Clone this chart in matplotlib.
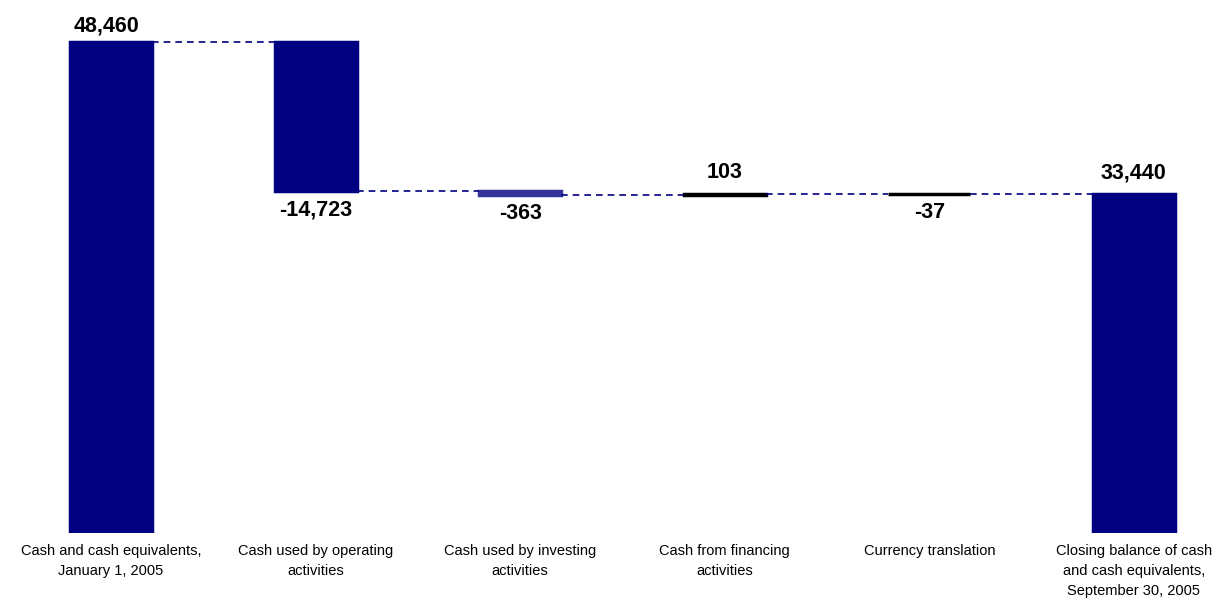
import matplotlib.pyplot as plt
from matplotlib import font_manager

# waterfall data (thousands)
categories = ["Cash and cash equivalents,\nJanuary 1, 2005",
              "Cash used by operating\nactivities",
              "Cash used by investing\nactivities",
              "Cash from financing\nactivities",
              "Currency translation",
              "Closing balance of cash\nand cash equivalents,\nSeptember 30, 2005"]
changes = [48460, -14723, -363, 103, -37, 33440]
labels = ["48,460", "-14,723", "-363", "103", "-37", "33,440"]
is_total = [True, False, False, False, False, True]
colors = ["#000080", "#000080", "#333399", "#000000", "#000000", "#000080"]

names = {f.name for f in font_manager.fontManager.ttflist}
narrow = "Liberation Sans Narrow" if "Liberation Sans Narrow" in names else "Liberation Sans"
plt.rcParams['font.family'] = [narrow, "DejaVu Sans"]

# compute bottoms / tops
bottoms, heights = [], []
level = 0
for c, tot in zip(changes, is_total):
    if tot:
        bottoms.append(0)
        heights.append(c)
        level = c
    else:
        new = level + c
        bottoms.append(min(level, new))
        heights.append(abs(c))
        level = new

fig = plt.figure(figsize=(12.21, 6), dpi=100)
ax = fig.add_axes([0.0156, 1 - 533 / 600, 0.980, 533 / 600])
x = list(range(len(changes)))
w = 0.4
ax.bar(x, heights, bottom=bottoms, width=w, color=colors, edgecolor=colors, linewidth=2.5)

# dashed connectors
level = 0
ends = []
for i, (c, tot) in enumerate(zip(changes, is_total)):
    level = c if tot else level + c
    ends.append(level)
for i in range(len(changes) - 1):
    y = ends[i]
    ax.plot([i + w / 2, i + 1 - w / 2], [y, y], color="#000080", ls=(0, (4, 3)), lw=1.2)

# value labels
for i, (c, lab) in enumerate(zip(changes, labels)):
    top = bottoms[i] + heights[i]
    if c >= 0:
        dy = 4 if i == 0 else 8
        ax.annotate(lab, (i, top), xytext=(-3 if i == 0 else 0, dy), textcoords="offset points",
                    ha="center", va="bottom", fontsize=15.5, fontweight="bold")
    else:
        ax.annotate(lab, (i, bottoms[i]), xytext=(0, -6), textcoords="offset points",
                    ha="center", va="top", fontsize=15.5, fontweight="bold")

ax.set_xlim(-0.45, 5.4)
ax.set_ylim(0, 52600)
ax.set_xticks(x)
ax.set_xticklabels(categories, fontsize=10.5, linespacing=1.55)
ax.tick_params(axis="x", length=0, pad=8)
ax.set_yticks([])
for s in ax.spines.values():
    s.set_visible(False)

plt.savefig("out.png", dpi=100)
